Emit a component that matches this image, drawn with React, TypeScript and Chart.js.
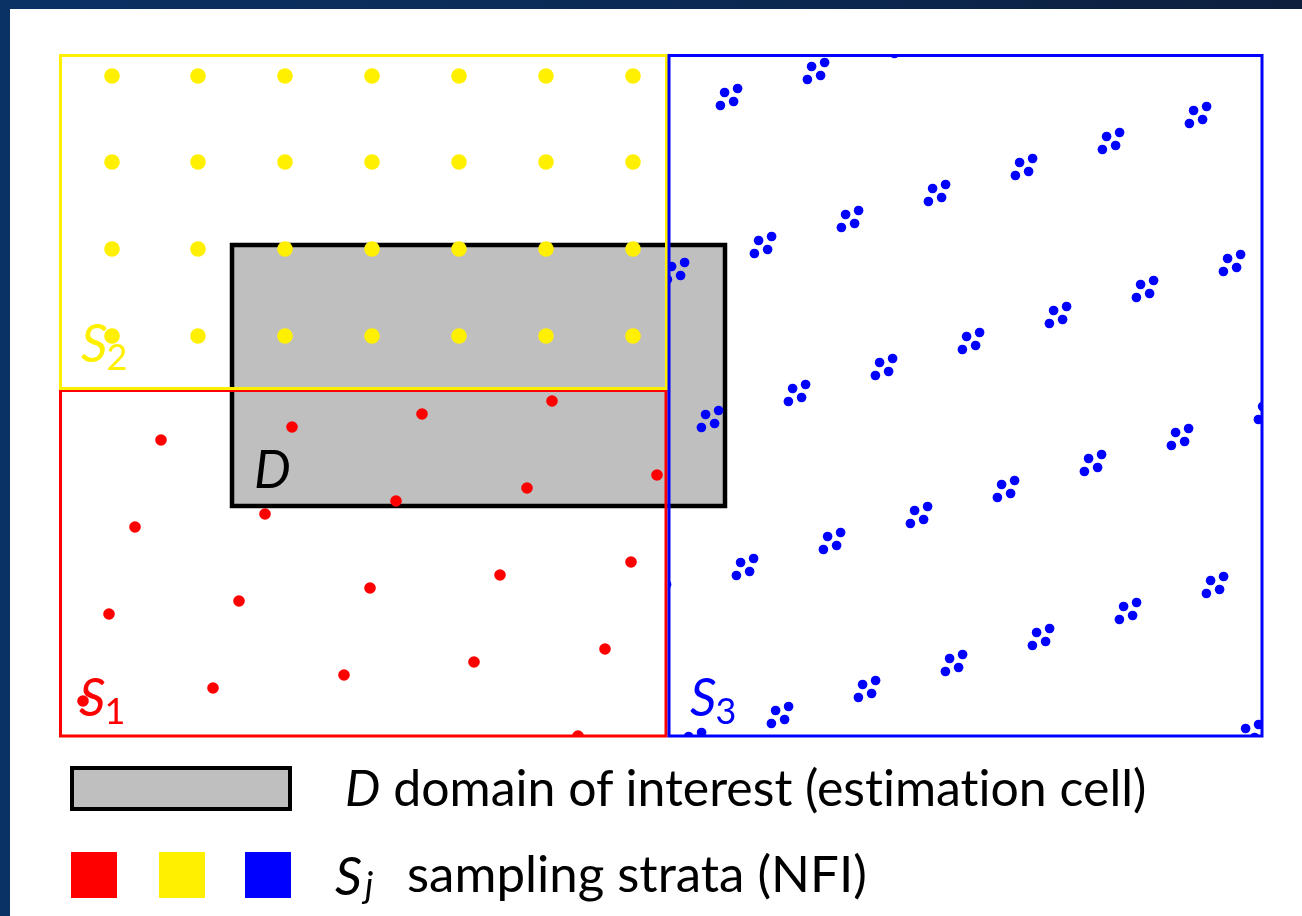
import React, { useEffect, useRef } from 'react';
import { Chart, registerables } from 'chart.js';

Chart.register(...registerables);

// ---- Diagram data (diagram units: x to the right, y downward) ----
const domainX = [232, 725];
const domainY = [245, 506];

const stratum1X = [60.5, 666];
const stratum1Y = [390.5, 736];
const stratum2X = [60.5, 666.5];
const stratum2Y = [55.5, 388.5];
const stratum3X = [669, 1262];
const stratum3Y = [55.5, 736];

// S2: regular grid of plots
const yellowColumns = [112, 198, 285, 372, 459, 546, 633];
const yellowRows = [76, 162, 249, 336];

// S1: single plots
const redPlots: [number, number][] = [
  [161, 440], [292, 427], [422, 414], [552, 401],
  [135, 527], [265, 514], [396, 501], [527, 488], [657, 475],
  [109, 614], [239, 601], [370, 588], [500, 575], [631, 562],
  [83, 701], [213, 688], [344, 675], [474, 662], [605, 649],
  [578, 736],
];

// S3: clusters of four plots
const blueClusterCentres: [number, number][] = [
  [729, 97], [816, 71], [903, 45],
  [676, 271], [763, 245], [850, 219], [937, 193], [1024, 167], [1111, 141], [1198, 115],
  [710, 419], [797, 393], [884, 367], [971, 341], [1058, 315], [1145, 289], [1232, 263],
  [658, 593], [745, 567], [832, 541], [919, 515], [1006, 489], [1093, 463], [1180, 437], [1267, 411],
  [693, 741], [780, 715], [867, 689], [954, 663], [1041, 637], [1128, 611], [1215, 585],
  [1250, 733],
];
const clusterPlotOffsets: [number, number][] = [
  [-8.6, 8.5], [-4.4, -4.5], [4.6, 4.5], [8.6, -8.5],
];

const RED = '#ff0000';
const YELLOW = '#fff000';
const BLUE = '#0000ff';
const GRAY = '#bfbfbf';

const rectPath = (xs: number[], ys: number[]) => [
  { x: xs[0], y: ys[0] },
  { x: xs[1], y: ys[0] },
  { x: xs[1], y: ys[1] },
  { x: xs[0], y: ys[1] },
  { x: xs[0], y: ys[0] },
];

const clipBoxes: Record<string, [number[], number[]]> = {
  'S1 plots': [stratum1X, stratum1Y],
  'S2 plots': [stratum2X, stratum2Y],
  'S3 plots': [stratum3X, stratum3Y],
};

const clipPlugin = {
  id: 'strataClip',
  beforeDatasetDraw(chart: any, args: any) {
    const box = clipBoxes[chart.data.datasets[args.index].label];
    if (!box) return;
    const sx = chart.scales.x;
    const sy = chart.scales.y;
    const l = sx.getPixelForValue(box[0][0]);
    const r = sx.getPixelForValue(box[0][1]);
    const t = sy.getPixelForValue(box[1][0]);
    const b = sy.getPixelForValue(box[1][1]);
    const ctx = chart.ctx;
    ctx.save();
    ctx.beginPath();
    ctx.rect(Math.min(l, r), Math.min(t, b), Math.abs(r - l), Math.abs(b - t));
    ctx.clip();
  },
  afterDatasetDraw(chart: any, args: any) {
    const box = clipBoxes[chart.data.datasets[args.index].label];
    if (!box) return;
    chart.ctx.restore();
  },
};

const labelPlugin = {
  id: 'strataLabels',
  afterDatasetsDraw(chart: any) {
    const ctx = chart.ctx;
    const sx = chart.scales.x;
    const sy = chart.scales.y;
    const draw = (main: string, sub: string, color: string, ax: number, ay: number) => {
      const px = sx.getPixelForValue(ax);
      const py = sy.getPixelForValue(ay);
      ctx.save();
      ctx.fillStyle = color;
      ctx.textBaseline = 'alphabetic';
      ctx.font = 'italic 52px Lato';
      ctx.fillText(main, px, py);
      const w = ctx.measureText(main).width;
      if (sub) {
        ctx.font = '36px Lato';
        ctx.fillText(sub, px + w - 1, py + 8);
      }
      ctx.restore();
    };
    draw('S', '1', RED, 79, 716);
    draw('S', '2', YELLOW, 81, 362);
    draw('S', '3', BLUE, 690, 716);
    draw('D', '', '#000000', 254, 488);
  },
};

export default function App() {
  const canvasRef = useRef<HTMLCanvasElement | null>(null);

  useEffect(() => {
    const canvas = canvasRef.current;
    if (!canvas) return;

    const yellowPlots = yellowRows.flatMap((y) => yellowColumns.map((x) => ({ x, y })));
    const bluePlots = blueClusterCentres.flatMap(([cx, cy]) =>
      clusterPlotOffsets.map(([dx, dy]) => ({ x: cx + dx, y: cy + dy }))
    );

    const chart = new Chart(canvas, {
      type: 'scatter',
      data: {
        datasets: [
          {
            label: 'S3 box',
            data: rectPath(stratum3X, stratum3Y),
            showLine: true,
            borderColor: BLUE,
            borderWidth: 3,
            pointRadius: 0,
            fill: false,
            borderJoinStyle: 'miter',
            borderCapStyle: 'square',
            order: 1,
          } as any,
          {
            label: 'S2 box',
            data: rectPath(stratum2X, stratum2Y),
            showLine: true,
            borderColor: YELLOW,
            borderWidth: 3,
            pointRadius: 0,
            fill: false,
            borderJoinStyle: 'miter',
            borderCapStyle: 'square',
            order: 2,
          } as any,
          {
            label: 'S1 box',
            data: rectPath(stratum1X, stratum1Y),
            showLine: true,
            borderColor: RED,
            borderWidth: 3,
            pointRadius: 0,
            fill: false,
            borderJoinStyle: 'miter',
            borderCapStyle: 'square',
            order: 3,
          } as any,
          {
            label: 'S3 plots',
            data: bluePlots,
            pointRadius: 4.8,
            pointBorderWidth: 0,
            pointBackgroundColor: BLUE,
            pointBorderColor: BLUE,
            order: 4,
          },
          {
            label: 'S2 plots',
            data: yellowPlots,
            pointRadius: 7.8,
            pointBorderWidth: 0,
            pointBackgroundColor: YELLOW,
            pointBorderColor: YELLOW,
            order: 5,
          },
          {
            label: 'S1 plots',
            data: redPlots.map(([x, y]) => ({ x, y })),
            pointRadius: 5.8,
            pointBorderWidth: 0,
            pointBackgroundColor: RED,
            pointBorderColor: RED,
            order: 6,
          },
          {
            label: 'D',
            data: rectPath(domainX, domainY),
            showLine: true,
            borderColor: '#000000',
            borderWidth: 4.5,
            backgroundColor: GRAY,
            pointRadius: 0,
            fill: 'shape',
            borderJoinStyle: 'miter',
            borderCapStyle: 'square',
            order: 7,
          } as any,
        ],
      },
      options: {
        responsive: false,
        animation: false,
        events: [],
        layout: { padding: 0, autoPadding: false },
        plugins: {
          legend: { display: false },
          tooltip: { enabled: false },
        },
        scales: {
          x: { type: 'linear', min: 0, max: 1302, display: false },
          y: { type: 'linear', min: 0, max: 916, reverse: true, display: false },
        },
        elements: { line: { tension: 0 } },
      },
      plugins: [clipPlugin, labelPlugin],
    });

    return () => chart.destroy();
  }, []);

  const legendText: React.CSSProperties = {
    position: 'absolute',
    fontFamily: 'Lato, sans-serif',
    fontSize: 50,
    color: '#000',
    whiteSpace: 'nowrap',
    lineHeight: 1,
    fontVariantLigatures: 'none',
    fontFeatureSettings: '"liga" 0, "clig" 0',
  };

  return (
    <div
      style={{
        position: 'fixed',
        left: 0,
        top: 0,
        width: 1302,
        height: 916,
        overflow: 'hidden',
        background: 'linear-gradient(90deg, #0a3264 0%, #0b2a55 50%, #0d1f3d 100%)',
      }}
    >
      <div style={{ position: 'absolute', left: 10, top: 9, right: 0, bottom: 0, background: '#ffffff' }} />
      <canvas
        ref={canvasRef}
        width={1302}
        height={916}
        style={{ position: 'absolute', left: 0, top: 0, width: 1302, height: 916 }}
      />
      <div
        style={{
          position: 'absolute',
          left: 70,
          top: 766,
          width: 214,
          height: 37,
          border: '4px solid #000',
          background: GRAY,
        }}
      />
      <div style={{ ...legendText, left: 345, top: 762 }}>
        <i>D</i> domain of interest (estimation cell)
      </div>
      <div style={{ position: 'absolute', left: 71, top: 852, width: 46, height: 46, background: RED }} />
      <div style={{ position: 'absolute', left: 159, top: 852, width: 46, height: 46, background: YELLOW }} />
      <div style={{ position: 'absolute', left: 245, top: 852, width: 46, height: 46, background: BLUE }} />
      <div style={{ ...legendText, left: 335, top: 848, fontSize: 53 }}>
        <i>S</i>
      </div>
      <div style={{ ...legendText, left: 365, top: 866, fontSize: 36, fontStyle: 'italic' }}>j</div>
      <div style={{ ...legendText, left: 407, top: 847, fontSize: 51 }}>sampling strata (NFI)</div>
    </div>
  );
}
